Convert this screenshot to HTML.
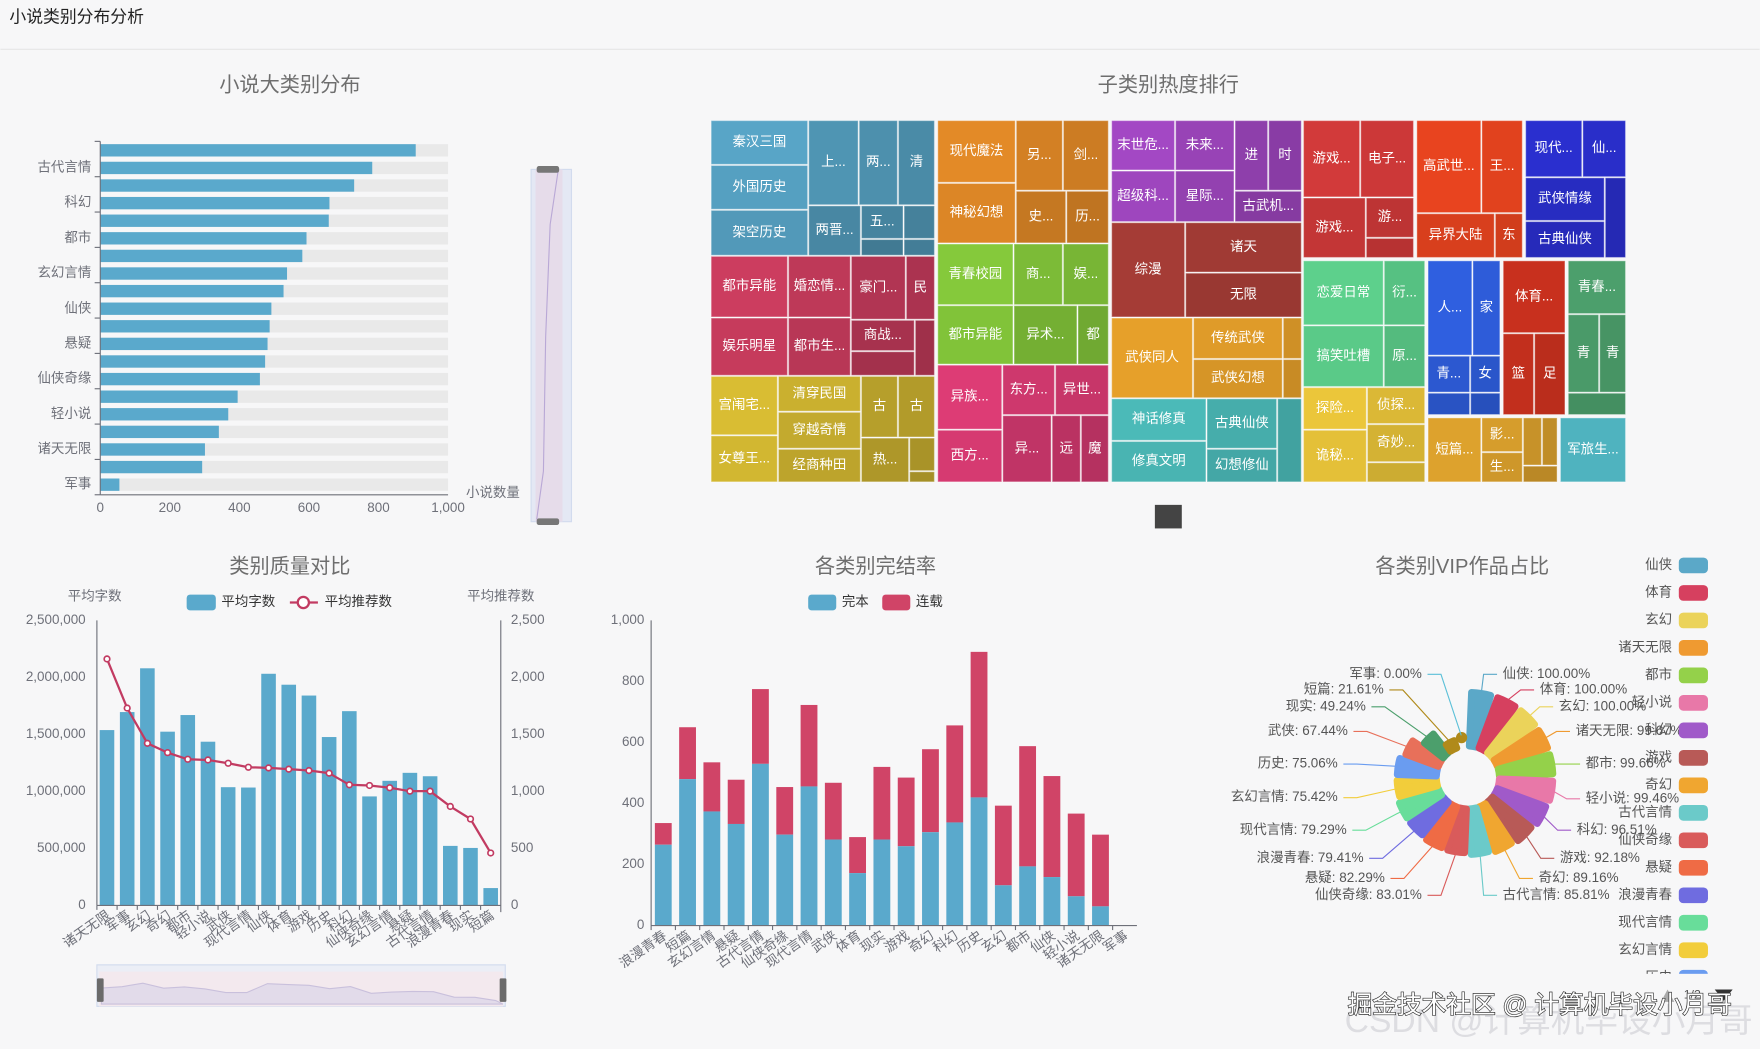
<!DOCTYPE html>
<html><head><meta charset="utf-8">
<style>
html,body{margin:0;padding:0;background:#f7f7f8;}
svg{display:block;font-family:"Liberation Sans","Noto Sans CJK SC",sans-serif;}
</style></head>
<body>
<svg id="s" width="1760" height="1049" viewBox="0 0 1568 935" xmlns="http://www.w3.org/2000/svg">
<rect x="0" y="0" width="1568" height="935" fill="#f7f7f8"/>
<text x="8" y="20" font-size="15" fill="#222">小说类别分布分析</text>
<line x1="0" y1="44" x2="1568" y2="44" stroke="#e6e6e6" stroke-width="1"/>
</svg>
<script>
const S=document.getElementById('s');const NS='http://www.w3.org/2000/svg';
function el(t,a,txt){const e=document.createElementNS(NS,t);for(const k in a)e.setAttribute(k,a[k]);if(txt!==undefined)e.textContent=txt;S.appendChild(e);return e;}
function T(x,y,s,o){o=o||{};return el('text',Object.assign({x:x,y:y,'font-size':o.fs||12,fill:o.fill||'#6e7079','text-anchor':o.a||'start','dominant-baseline':'middle'},o.attr||{}),s);}
const TITLE='#6e6e6e',BLUE='#5aa9cc',RED='#d04467';
// ---------- Chart 1 ----------
T(258,77,'小说大类别分布',{fs:18,fill:TITLE,a:'middle'});
const v1=[907,782,730,659,657,593,581,537,527,492,487,481,474,459,395,368,341,301,293,55];
const lab1={1:'古代言情',3:'科幻',5:'都市',7:'玄幻言情',9:'仙侠',11:'悬疑',13:'仙侠奇缘',15:'轻小说',17:'诸天无限',19:'军事'};
for(let i=0;i<20;i++){const cy=134+i*(298/19);
 el('rect',{x:89,y:cy-5.5,width:310,height:11,fill:'#e9e9e9'});
 el('rect',{x:89,y:cy-5.5,width:310*v1[i]/1000,height:11,fill:BLUE});
 if(lab1[i])T(81,cy,lab1[i],{a:'end'});
}
el('line',{x1:89,y1:126,x2:89,y2:441,stroke:'#6e7079'});
el('line',{x1:89,y1:441,x2:399,y2:441,stroke:'#6e7079'});
for(let i=0;i<=10;i++){el('line',{x1:84,y1:126+i*31.5,x2:89,y2:126+i*31.5,stroke:'#6e7079'});}
[0,200,400,600,800,1000].forEach((v,i)=>{T(89+i*62,453,v==1000?'1,000':String(v),{a:'middle'});});
T(415,440,'小说数量',{});
el('rect',{x:473,y:151,width:36,height:314,fill:'#e4e8f4',stroke:'#d2dbee'});
el('rect',{x:477,y:151,width:24,height:314,fill:'#e6dcea'});
el('path',{d:'M497 153 L490 200 L486 300 L484 420 L478 463',stroke:'#b9a8d6',fill:'none'});
el('rect',{x:478,y:148,width:20,height:6,rx:2,fill:'#777'});
el('rect',{x:478,y:462,width:20,height:6,rx:2,fill:'#777'});
// ---------- Treemap ----------
const tm=[
['#58a5c7',[[633,107,720,147,'秦汉三国'],[633,147,720,187,'外国历史'],[633,187,720,228,'架空历史'],[720,107,765,183,'上...'],[765,107,800,183,'两...'],[800,107,833,183,'清'],[720,183,767,228,'两晋...'],[767,183,805,213,'五...'],[805,183,833,213,''],[805,213,833,228,''],[767,213,805,228,'']]],
['#cc3d5f',[[633,228,702,283,'都市异能'],[633,283,702,335,'娱乐明星'],[702,228,758,283,'婚恋情...'],[702,283,758,335,'都市生...'],[758,228,807,285,'豪门...'],[807,228,833,285,'民'],[758,285,815,313,'商战...'],[758,313,815,335,''],[815,285,833,335,'']]],
['#d9bd33',[[633,335,693,388,'宫闱宅...'],[633,388,693,430,'女尊王...'],[693,335,767,367,'清穿民国'],[693,367,767,400,'穿越奇情'],[693,400,767,430,'经商种田'],[767,335,800,390,'古'],[800,335,833,390,'古'],[767,390,810,430,'热...'],[810,390,833,420,''],[810,420,833,430,'']]],
['#e38a27',[[835,107,905,163,'现代魔法'],[835,163,905,217,'神秘幻想'],[905,107,947,170,'另...'],[947,107,988,170,'剑...'],[905,170,950,217,'史...'],[950,170,988,217,'历...']]],
['#85c93b',[[835,217,903,272,'青春校园'],[835,272,903,325,'都市异能'],[903,217,947,272,'商...'],[947,217,988,272,'娱...'],[903,272,960,325,'异术...'],[960,272,988,325,'都']]],
['#dd3c75',[[835,325,893,383,'异族...'],[835,383,893,430,'西方...'],[893,325,940,370,'东方...'],[940,325,988,370,'异世...'],[893,370,937,430,'异...'],[937,370,963,430,'远'],[963,370,988,430,'魔']]],
['#a348c4',[[990,107,1047,152,'末世危...'],[990,152,1047,198,'超级科...'],[1047,107,1100,152,'未来...'],[1047,152,1100,198,'星际...'],[1100,107,1130,170,'进'],[1130,107,1160,170,'时'],[1100,170,1160,198,'古武机...']]],
['#a53c36',[[990,198,1056,283,'综漫'],[1056,198,1160,243,'诸天'],[1056,243,1160,283,'无限']]],
['#e6a02a',[[990,283,1063,355,'武侠同人'],[1063,283,1143,320,'传统武侠'],[1063,320,1143,355,'武侠幻想'],[1143,283,1160,320,''],[1143,320,1160,355,'']]],
['#4bbab8',[[990,355,1075,393,'神话修真'],[990,393,1075,430,'修真文明'],[1075,355,1138,400,'古典仙侠'],[1075,400,1138,430,'幻想修仙'],[1138,355,1160,430,'']]],
['#d23a3a',[[1161,107,1212,176,'游戏...'],[1212,107,1260,176,'电子...'],[1161,176,1217,230,'游戏...'],[1217,176,1260,212,'游...'],[1217,212,1260,230,'']]],
['#e8441f',[[1262,107,1320,190,'高武世...'],[1320,107,1357,190,'王...'],[1262,190,1332,230,'异界大陆'],[1332,190,1357,230,'东']]],
['#2a2fcf',[[1359,107,1410,158,'现代...'],[1410,107,1449,158,'仙...'],[1359,158,1430,197,'武侠情缘'],[1359,197,1430,230,'古典仙侠'],[1430,158,1449,230,'']]],
['#5dd08c',[[1161,232,1233,290,'恋爱日常'],[1161,290,1233,345,'搞笑吐槽'],[1233,232,1270,290,'衍...'],[1233,290,1270,345,'原...']]],
['#ebc63a',[[1161,345,1218,383,'探险...'],[1161,383,1218,430,'诡秘...'],[1218,345,1270,378,'侦探...'],[1218,378,1270,412,'奇妙...'],[1218,412,1270,430,'']]],
['#2f5fe0',[[1272,232,1312,317,'人...'],[1312,232,1337,317,'家'],[1272,317,1310,350,'青...'],[1310,317,1337,350,'女'],[1272,350,1310,370,''],[1310,350,1337,370,'']]],
['#c8301e',[[1339,232,1395,297,'体育...'],[1339,297,1367,370,'篮'],[1367,297,1395,370,'足']]],
['#4c9f6c',[[1397,232,1449,280,'青春...'],[1397,280,1425,350,'青'],[1425,280,1449,350,'青'],[1397,350,1449,370,'']]],
['#dda22d',[[1272,372,1320,430,'短篇...'],[1320,372,1357,403,'影...'],[1320,403,1357,430,'生...'],[1357,372,1374,415,''],[1374,372,1388,415,''],[1357,415,1388,430,'']]],
['#4fb3bf',[[1390,372,1449,430,'军旅生...']]]
];
function shade(hex,f){let n=parseInt(hex.slice(1),16),r=n>>16,g=(n>>8)&255,b=n&255;r=Math.round(r*f);g=Math.round(g*f);b=Math.round(b*f);return 'rgb('+Math.min(255,r)+','+Math.min(255,g)+','+Math.min(255,b)+')';}
T(1041,77,'子类别热度排行',{fs:18,fill:TITLE,a:'middle'});
tm.forEach(g=>{g[1].forEach((r,i)=>{const f=[1,0.97,0.93,0.9,0.87,0.84,0.82,0.8,0.78,0.76,0.74][i]||0.75;
 el('rect',{x:r[0]+0.5,y:r[1]+0.5,width:r[2]-r[0]-1,height:r[3]-r[1]-1,fill:shade(g[0],f),stroke:'rgba(255,255,255,0.35)','stroke-width':1});
 if(r[4])T((r[0]+r[2])/2,(r[1]+r[3])/2,r[4],{fill:'#fff',a:'middle',fs:12});});});
el('rect',{x:1029,y:450,width:24,height:21,fill:'#444'});
// ---------- Chart 3 ----------
T(258,506,'类别质量对比',{fs:18,fill:TITLE,a:'middle'});
T(84,532,'平均字数',{a:'middle'});T(446,532,'平均推荐数',{a:'middle'});
el('rect',{x:166,y:530,width:26,height:14,rx:3,fill:BLUE});T(197,537,'平均字数',{fill:'#333'});
el('line',{x1:258,y1:537,x2:283,y2:537,stroke:'#c23b62','stroke-width':2});
el('circle',{cx:270,cy:537,r:5,fill:'#fff',stroke:'#c23b62','stroke-width':2});T(289,537,'平均推荐数',{fill:'#333'});
const c3=['诸天无限','军事','玄幻','奇幻','都市','轻小说','武侠','现代言情','仙侠','体育','游戏','历史','科幻','仙侠奇缘','玄幻言情','悬疑','古代言情','浪漫青春','现实','短篇'];
const b3=[1.538,1.696,2.080,1.524,1.670,1.436,1.037,1.034,2.032,1.936,1.841,1.477,1.704,0.956,1.093,1.163,1.133,0.522,0.504,0.152];
const l3=[2162,1731,1422,1340,1282,1276,1247,1212,1206,1195,1183,1160,1058,1052,1032,1002,1002,868,758,460];
const y0=807,yh=254;
['0','500,000','1,000,000','1,500,000','2,000,000','2,500,000'].forEach((t,i)=>T(76,y0-i*yh/5,t,{a:'end'}));
['0','500','1,000','1,500','2,000','2,500'].forEach((t,i)=>T(455,y0-i*yh/5,t,{}));
let pts=[];
for(let i=0;i<20;i++){const cx=86+18*i+9;const h=b3[i]/2.5*yh;
 el('rect',{x:cx-6.5,y:y0-h,width:13,height:h,fill:BLUE});
 pts.push([cx,y0-l3[i]/2500*yh]);
 el('line',{x1:86+18*i,y1:y0,x2:86+18*i,y2:y0+4,stroke:'#6e7079'});
 T(cx+2,y0+8,c3[i],{a:'end',attr:{transform:'rotate(-35 '+(cx+2)+' '+(y0+8)+')'}});
}
el('line',{x1:86,y1:553,x2:86,y2:y0,stroke:'#6e7079'});el('line',{x1:446,y1:553,x2:446,y2:y0+6,stroke:'#6e7079'});
el('line',{x1:86,y1:y0,x2:446,y2:y0,stroke:'#6e7079'});
let d='M'+pts.map(p=>p.join(' ')).join(' L');
el('path',{d:d,fill:'none',stroke:'#c23b62','stroke-width':2,'stroke-linejoin':'round'});
pts.forEach(p=>el('circle',{cx:p[0],cy:p[1],r:2.5,fill:'#fff',stroke:'#c23b62','stroke-width':1.5}));
el('rect',{x:86,y:860,width:364,height:37,fill:'#ebeef6',stroke:'#d2dbee'});
el('rect',{x:88,y:866,width:360,height:31,fill:'#f3e9ee'});
let sp='M90 880';for(let i=0;i<20;i++){sp+=' L'+(90+i*18.5)+' '+(893-b3[i]*8);} sp+=' L448 895 L90 895Z';
el('path',{d:sp,fill:'#e2dbea',stroke:'#c9c0dc'});
el('rect',{x:86,y:872,width:6,height:21,rx:1,fill:'#6b6b6b'});el('rect',{x:445,y:872,width:6,height:21,rx:1,fill:'#6b6b6b'});
// ---------- Chart 4 ----------
T(780,506,'各类别完结率',{fs:18,fill:TITLE,a:'middle'});
el('rect',{x:720,y:530,width:25,height:14,rx:3,fill:BLUE});T(750,537,'完本',{fill:'#333'});
el('rect',{x:786,y:530,width:25,height:14,rx:3,fill:RED});T(816,537,'连载',{fill:'#333'});
const c4=['浪漫青春','短篇','玄幻言情','悬疑','古代言情','仙侠奇缘','现代言情','武侠','体育','现实','游戏','奇幻','科幻','历史','玄幻','都市','仙侠','轻小说','诸天无限','军事'];
const bl=[265,480,374,333,530,298,456,282,172,282,260,306,338,420,132,194,159,96,63,0];
const tt=[336,650,535,478,775,454,723,468,290,520,485,578,656,897,393,588,490,367,298,0];
const Y0=825,H=272,bw=21.65;
['0','200','400','600','800','1,000'].forEach((t,i)=>T(574,Y0-i*H/5,t,{a:'end'}));
for(let i=0;i<20;i++){const x=580+bw*i+bw/2;
 el('rect',{x:x-7.5,y:Y0-tt[i]/1000*H,width:15,height:(tt[i]-bl[i])/1000*H,fill:RED});
 el('rect',{x:x-7.5,y:Y0-bl[i]/1000*H,width:15,height:bl[i]/1000*H,fill:BLUE});
 el('line',{x1:580+bw*i,y1:Y0,x2:580+bw*i,y2:Y0+4,stroke:'#6e7079'});
 T(x+2,Y0+8,c4[i],{a:'end',attr:{transform:'rotate(-35 '+(x+2)+' '+(Y0+8)+')'}});
}
el('line',{x1:580,y1:553,x2:580,y2:Y0,stroke:'#6e7079'});el('line',{x1:580,y1:Y0,x2:1013,y2:Y0,stroke:'#6e7079'});
// ---------- Chart 5 ----------
T(1303,506,'各类别VIP作品占比',{fs:18,fill:TITLE,a:'middle'});
const pn=['仙侠','体育','玄幻','诸天无限','都市','轻小说','科幻','游戏','奇幻','古代言情','仙侠奇缘','悬疑','浪漫青春','现代言情','玄幻言情','历史','武侠','现实','短篇','军事'];
const pv=[100,100,100,99.67,99.66,99.46,96.51,92.18,89.16,85.81,83.01,82.29,79.41,79.29,75.42,75.06,67.44,49.24,21.61,0];
const pc=['#5ba8c8','#d6405f','#ebd35a','#ef9a31','#94d14a','#e878a8','#a05ac9','#b85a57','#f0a630','#6bcac9','#d95b5b','#ef6b45','#6f6ce0','#68dd9a','#f2cd3b','#6a9cf0','#e8705a','#4c9f6c','#b08a1a','#5bc0d8'];
const CX=1308,CY=693,R0=25;
for(let i=0;i<20;i++){
 const a1=(-90+18*i+2.4)*Math.PI/180,a2=(-90+18*(i+1)-2.4)*Math.PI/180;
 const r=R0+2+52*pv[i]/100;
 if(pv[i]<1){const am=(a1+a2)/2;el('circle',{cx:CX+36*Math.cos(am),cy:CY+36*Math.sin(am),r:5,fill:'#b08a1a'});continue;}
 const ri=R0+3, ro=r-3;
 const p=(rr,a)=>(CX+rr*Math.cos(a)).toFixed(1)+' '+(CY+rr*Math.sin(a)).toFixed(1);
 el('path',{d:'M'+p(ri,a1)+' L'+p(ro,a1)+' A'+ro+' '+ro+' 0 0 1 '+p(ro,a2)+' L'+p(ri,a2)+' A'+ri+' '+ri+' 0 0 0 '+p(ri,a1)+'Z',fill:pc[i],stroke:pc[i],'stroke-width':6,'stroke-linejoin':'round'});
}
const rl=[[1339,601],[1372,615],[1389,630],[1404,652],[1413,681],[1413,712],[1405,740],[1390,765],[1371,783],[1339,798]];
const ll=[[1267,601],[1233,615],[1217,630],[1201,652],[1192,681],[1192,711],[1200,740],[1215,765],[1234,783],[1267,798]];
for(let i=0;i<20;i++){
 const am=(-90+18*i+9)*Math.PI/180;const r=(pv[i]<1?38:R0+52*pv[i]/100);
 const sx=CX+r*Math.cos(am),sy=CY+r*Math.sin(am);
 let lx,ly,ex;
 if(i<10){[lx,ly]=rl[i];ex=lx-5;el('polyline',{points:sx+','+sy+' '+(ex-12)+','+ly+' '+ex+','+ly,fill:'none',stroke:pc[i]});T(lx,ly,pn[i]+': '+pv[i].toFixed(2)+'%',{fill:'#555'});}
 else{const j=19-i;[lx,ly]=ll[j];ex=lx+5;el('polyline',{points:sx+','+sy+' '+(ex+12)+','+ly+' '+ex+','+ly,fill:'none',stroke:pc[i]});T(lx,ly,pn[i]+': '+pv[i].toFixed(2)+'%',{fill:'#555',a:'end'});}
}
for(let i=0;i<16;i++){const y=504+i*24.5;
 el('rect',{x:1496,y:y-7,width:26,height:14,rx:4,fill:pc[i]});
 T(1490,y,pn[i],{a:'end',fill:'#555'});}
el('rect',{x:1440,y:868,width:128,height:30,fill:'#f7f7f8'});
T(1508,887,'1/2',{fill:'#555',a:'middle',fs:11});
el('path',{d:'M1480 893 L1486 882 L1492 893Z',fill:'#aaa'});el('path',{d:'M1528 882 L1544 882 L1536 892Z',fill:'#333'});
T(1380,912,'CSDN @计算机毕设小月哥',{fs:30,fill:'rgba(200,200,205,0.55)',a:'middle'});
T(1372,897,'掘金技术社区 @ 计算机毕设小月哥',{fs:22,fill:'#fff',a:'middle',attr:{stroke:'#333','stroke-width':1.2,'paint-order':'stroke'}});
</script>
</body></html>
